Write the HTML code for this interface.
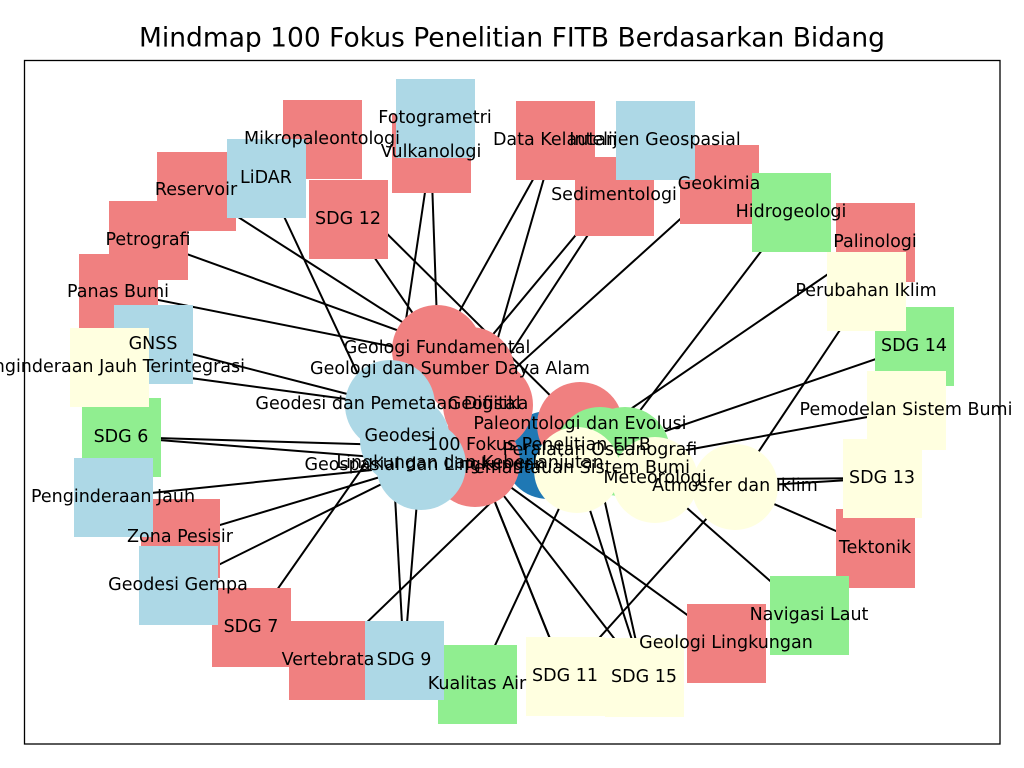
<!DOCTYPE html>
<html><head><meta charset="utf-8"><style>
html,body{margin:0;padding:0;background:#fff;width:1024px;height:768px;overflow:hidden}
svg text{font-family:"DejaVu Sans","Liberation Sans",sans-serif;font-size:17.5px;fill:#000;text-anchor:middle;dominant-baseline:central}
</style></head><body>
<svg width="1024" height="768" viewBox="0 0 1024 768" xmlns="http://www.w3.org/2000/svg">
<rect width="1024" height="768" fill="#fff"/>
<text x="512" y="38" style="font-size:26.5px">Mindmap 100 Fokus Penelitian FITB Berdasarkan Bidang</text>
<g stroke="#000" stroke-width="2" fill="none">
<line x1="431" y1="152" x2="438" y2="350"/>
<line x1="431" y1="152" x2="400" y2="360"/>
<line x1="348" y1="219" x2="438" y2="350"/>
<line x1="196" y1="190" x2="438" y2="345"/>
<line x1="266" y1="178" x2="370" y2="400"/>
<line x1="148" y1="240" x2="438" y2="345"/>
<line x1="118" y1="292" x2="460" y2="360"/>
<line x1="153" y1="344" x2="390" y2="405"/>
<line x1="109" y1="367" x2="390" y2="405"/>
<line x1="363" y1="210" x2="580" y2="425"/>
<line x1="555" y1="140" x2="438" y2="350"/>
<line x1="555" y1="140" x2="480" y2="400"/>
<line x1="614" y1="195" x2="480" y2="400"/>
<line x1="655" y1="140" x2="480" y2="350"/>
<line x1="719" y1="184" x2="480" y2="400"/>
<line x1="791" y1="212" x2="610" y2="450"/>
<line x1="875" y1="242" x2="600" y2="430"/>
<line x1="866" y1="291" x2="735" y2="487"/>
<line x1="914" y1="346" x2="610" y2="450"/>
<line x1="906" y1="410" x2="577" y2="470"/>
<line x1="882" y1="478" x2="655" y2="480"/>
<line x1="882" y1="478" x2="735" y2="487"/>
<line x1="875" y1="548" x2="735" y2="487"/>
<line x1="809" y1="615" x2="655" y2="480"/>
<line x1="726" y1="643" x2="480" y2="465"/>
<line x1="644" y1="677" x2="577" y2="470"/>
<line x1="644" y1="677" x2="600" y2="480"/>
<line x1="644" y1="677" x2="480" y2="465"/>
<line x1="565" y1="676" x2="480" y2="465"/>
<line x1="565" y1="676" x2="470" y2="440"/>
<line x1="565" y1="676" x2="735" y2="487"/>
<line x1="477" y1="684" x2="577" y2="470"/>
<line x1="404" y1="660" x2="420" y2="465"/>
<line x1="404" y1="660" x2="390" y2="405"/>
<line x1="328" y1="660" x2="540" y2="455"/>
<line x1="251" y1="627" x2="438" y2="360"/>
<line x1="178" y1="585" x2="420" y2="465"/>
<line x1="180" y1="537" x2="420" y2="465"/>
<line x1="113" y1="497" x2="420" y2="465"/>
<line x1="121" y1="437" x2="475" y2="465"/>
<line x1="121" y1="437" x2="390" y2="445"/>
</g>
<g fill="#f08080">
<rect x="392" y="114" width="79" height="79"/>
<rect x="283" y="100" width="79" height="79"/>
<rect x="157" y="152" width="79" height="79"/>
<rect x="309" y="180" width="79" height="79"/>
<rect x="109" y="201" width="79" height="79"/>
<rect x="79" y="254" width="79" height="79"/>
<rect x="516" y="101" width="79" height="79"/>
<rect x="575" y="157" width="79" height="79"/>
<rect x="680" y="145" width="79" height="79"/>
<rect x="836" y="203" width="79" height="79"/>
<rect x="836" y="509" width="79" height="79"/>
<rect x="687" y="604" width="79" height="79"/>
<rect x="289" y="621" width="79" height="79"/>
<rect x="212" y="588" width="79" height="79"/>
<rect x="141" y="499" width="79" height="79"/>
</g>
<g fill="#90ee90">
<rect x="752" y="173" width="79" height="79"/>
<rect x="875" y="307" width="79" height="79"/>
<rect x="770" y="576" width="79" height="79"/>
<rect x="438" y="645" width="79" height="79"/>
<rect x="82" y="398" width="79" height="79"/>
</g>
<g fill="#add8e6">
<rect x="396" y="79" width="79" height="79"/>
<rect x="227" y="139" width="79" height="79"/>
<rect x="616" y="101" width="79" height="79"/>
<rect x="365" y="621" width="79" height="79"/>
<rect x="139" y="546" width="79" height="79"/>
<rect x="74" y="458" width="79" height="79"/>
<rect x="114" y="305" width="79" height="79"/>
</g>
<g fill="#ffffe0">
<rect x="827" y="252" width="79" height="79"/>
<rect x="867" y="371" width="79" height="79"/>
<rect x="843" y="439" width="79" height="79"/>
<rect x="605" y="638" width="79" height="79"/>
<rect x="526" y="637" width="79" height="79"/>
<rect x="70" y="328" width="79" height="79"/>
</g>
<circle cx="548" cy="455" r="44" fill="#1f78b4"/>
<g fill="#f08080">
<circle cx="437" cy="350" r="45"/>
<circle cx="470" cy="372" r="45"/>
<circle cx="488" cy="405" r="45"/>
<circle cx="475" cy="462" r="45"/>
<circle cx="580" cy="425" r="43"/>
</g>
<g fill="#add8e6">
<circle cx="390" cy="405" r="45"/>
<circle cx="405" cy="440" r="45"/>
<circle cx="421" cy="465" r="45"/>
</g>
<g fill="#90ee90">
<circle cx="600" cy="452" r="45"/>
<circle cx="625" cy="452" r="45"/>
</g>
<g fill="#ffffe0">
<circle cx="577" cy="470" r="43"/>
<circle cx="655" cy="480" r="43"/>
<circle cx="735" cy="487" r="43"/>
</g>
<g>
<text x="435" y="118">Fotogrametri</text>
<text x="431" y="152">Vulkanologi</text>
<text x="322" y="139">Mikropaleontologi</text>
<text x="266" y="178">LiDAR</text>
<text x="196" y="190">Reservoir</text>
<text x="348" y="219">SDG 12</text>
<text x="148" y="240">Petrografi</text>
<text x="118" y="292">Panas Bumi</text>
<text x="153" y="344">GNSS</text>
<text x="109" y="367">Penginderaan Jauh Terintegrasi</text>
<text x="121" y="437">SDG 6</text>
<text x="113" y="497">Penginderaan Jauh</text>
<text x="180" y="537">Zona Pesisir</text>
<text x="178" y="585">Geodesi Gempa</text>
<text x="251" y="627">SDG 7</text>
<text x="328" y="660">Vertebrata</text>
<text x="404" y="660">SDG 9</text>
<text x="477" y="684">Kualitas Air</text>
<text x="565" y="676">SDG 11</text>
<text x="644" y="677">SDG 15</text>
<text x="726" y="643">Geologi Lingkungan</text>
<text x="809" y="615">Navigasi Laut</text>
<text x="875" y="548">Tektonik</text>
<text x="882" y="478">SDG 13</text>
<text x="906" y="410">Pemodelan Sistem Bumi</text>
<text x="914" y="346">SDG 14</text>
<text x="866" y="291">Perubahan Iklim</text>
<text x="875" y="242">Palinologi</text>
<text x="791" y="212">Hidrogeologi</text>
<text x="719" y="184">Geokimia</text>
<text x="614" y="195">Sedimentologi</text>
<text x="555" y="140">Data Kelautan</text>
<text x="655" y="140">Intelijen Geospasial</text>
<text x="437" y="348">Geologi Fundamental</text>
<text x="450" y="369">Geologi dan Sumber Daya Alam</text>
<text x="388" y="404">Geodesi dan Pemetaan Digital</text>
<text x="488" y="404">Geofisika</text>
<text x="400" y="436">Geodesi</text>
<text x="539" y="445">100 Fokus Penelitian FITB</text>
<text x="580" y="424">Paleontologi dan Evolusi</text>
<text x="600" y="450">Peralatan Oseanografi</text>
<text x="425" y="465">Geospasial dan Lingkungan</text>
<text x="470" y="463">Lingkungan dan Keberlanjutan</text>
<text x="577" y="468">Pemantauan Sistem Bumi</text>
<text x="655" y="478">Meteorologi</text>
<text x="735" y="486">Atmosfer dan Iklim</text>
</g>
<rect x="24.5" y="60.5" width="975.5" height="683.5" fill="none" stroke="#000" stroke-width="1.3"/>
</svg>
</body></html>
